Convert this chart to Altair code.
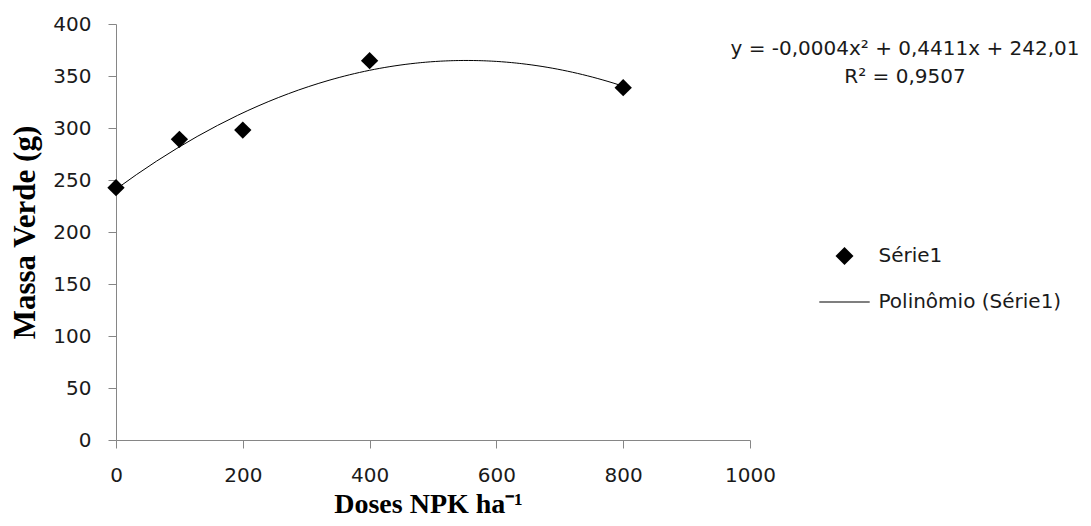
import altair as alt
import pandas as pd

# Data
doses = [0, 100, 200, 400, 800]
massa = [242.6, 289.1, 298.0, 364.7, 338.8]
serie = ["Série1"] * 5

legend_labels = ["Série1", "Polinômio (Série1)"]
equation_lines = ["y = -0,0004x² + 0,4411x + 242,01", "R² = 0,9507"]

x_ticks = [0, 200, 400, 600, 800, 1000]
y_ticks = [0, 50, 100, 150, 200, 250, 300, 350, 400]

df = pd.DataFrame({"dose": doses, "massa": massa, "serie": serie})

AX_COLOR = "#868686"
TXT = "#1a1a1a"
TICK_FONT = "DejaVu Sans"
TITLE_FONT = "Liberation Serif"

W, H = 634, 416

x_enc = alt.X(
    "dose:Q",
    scale=alt.Scale(domain=[0, 1000], nice=False),
    axis=alt.Axis(
        values=x_ticks,
        format="d",
        title="Doses NPK ha⁻¹",
        titleFont=TITLE_FONT,
        titleFontSize=28,
        titleFontWeight="bold",
        titleColor="#000000",
        titleBaseline="alphabetic",
        titleY=72,
        titleX=312,
        titleAlign="center",
        labelFont=TICK_FONT,
        labelFontSize=20,
        labelColor=TXT,
        labelPadding=17,
        tickSize=8,
        tickColor=AX_COLOR,
        domainColor=AX_COLOR,
        grid=False,
        labelFlush=False,
    ),
)
y_enc = alt.Y(
    "massa:Q",
    scale=alt.Scale(domain=[0, 400], nice=False),
    axis=alt.Axis(
        values=y_ticks,
        title="Massa Verde (g)",
        titleFont=TITLE_FONT,
        titleFontSize=31,
        titleFontWeight="bold",
        titleColor="#000000",
        titleAngle=-90,
        titleBaseline="alphabetic",
        titleAlign="center",
        titleX=-82,
        titleY=H / 2,
        labelFont=TICK_FONT,
        labelFontSize=20,
        labelColor=TXT,
        labelPadding=17,
        tickSize=8,
        tickColor=AX_COLOR,
        domainColor=AX_COLOR,
        grid=False,
        labelFlush=False,
    ),
)

base = alt.Chart(df)

points = base.mark_point(
    filled=True, fill="black", size=300, opacity=1
).encode(
    x=x_enc,
    y=y_enc,
    shape=alt.Shape(
        "serie:N",
        scale=alt.Scale(
            domain=legend_labels,
            range=["diamond", "M-2.8,-0.06H2.8V0.06H-2.8Z"],
        ),
        legend=alt.Legend(
            title=None,
            orient="none",
            legendX=718.5,
            legendY=222,
            symbolSize=324,
            symbolFillColor="black",
            labelFont=TICK_FONT,
            labelFontSize=20,
            labelColor=TXT,
            labelOffset=24,
            labelLimit=400,
            rowPadding=24,
            padding=0,
        ),
    ),
)

trend = base.transform_regression(
    "dose", "massa", method="poly", order=2
).mark_line(color="black", strokeWidth=1).encode(
    x=alt.X("dose:Q"),
    y=alt.Y("massa:Q"),
)

eq1 = alt.Chart(pd.DataFrame({"t": [equation_lines[0]]})).mark_text(
    font=TICK_FONT, fontSize=20, color=TXT, align="center", baseline="alphabetic"
).encode(text="t:N", x=alt.value(789), y=alt.value(31))
eq2 = alt.Chart(pd.DataFrame({"t": [equation_lines[1]]})).mark_text(
    font=TICK_FONT, fontSize=20, color=TXT, align="center", baseline="alphabetic"
).encode(text="t:N", x=alt.value(789), y=alt.value(59))

chart = (
    alt.layer(trend, points, eq1, eq2)
    .properties(
        width=W,
        height=H,
        autosize=alt.AutoSizeParams(type="none"),
        padding={"left": 108, "top": 16, "right": 333, "bottom": 78},
        background="white",
    )
    .configure_view(stroke=None)
)

chart.save("out.html", embed_options={"renderer": "svg", "actions": False})
